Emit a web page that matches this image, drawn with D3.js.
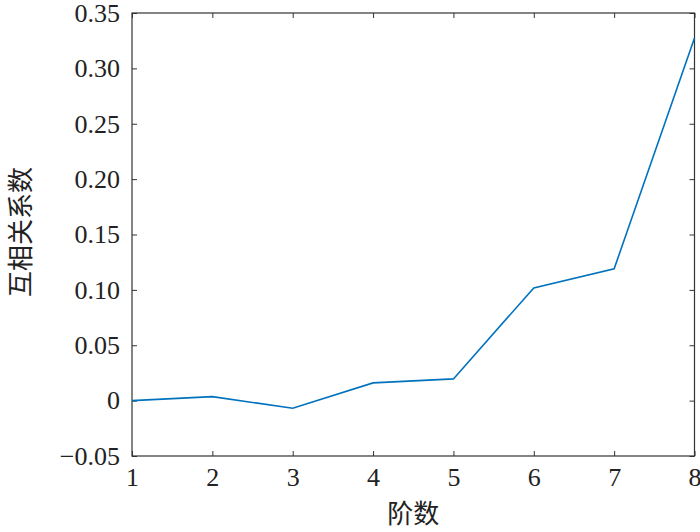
<!DOCTYPE html>
<html>
<head>
<meta charset="utf-8">
<script src="https://cdn.jsdelivr.net/npm/d3@7"></script>
<style>
  body { margin: 0; background: #fff; }
  .axis-label { font-family: "Noto Sans CJK SC", sans-serif; font-size: 26px; fill: #222; }
</style>
</head>
<body>
<div id="chart"></div>
<script>
// data
var orders = [1, 2, 3, 4, 5, 6, 7, 8];
var coeffs = [0.0, 0.0036, -0.0069, 0.016, 0.0196, 0.1018, 0.119, 0.3275];
var yTicks = [-0.05, 0, 0.05, 0.10, 0.15, 0.20, 0.25, 0.30, 0.35];
var yTickLabels = ["\u22120.05", "0", "0.05", "0.10", "0.15", "0.20", "0.25", "0.30", "0.35"];
var xLabel = "阶数";
var yLabel = "互相关系数";

var margin = { top: 13, right: 5.5, bottom: 76, left: 132 };
var width = 700 - margin.left - margin.right,
    height = 532 - margin.top - margin.bottom;

var svg = d3.select("#chart").append("svg")
    .attr("width", 700)
    .attr("height", 532)
    .append("g")
    .attr("transform", "translate(" + margin.left + "," + margin.top + ")");

var x = d3.scaleLinear().domain([1, 8]).range([0, width]);
var y = d3.scaleLinear().domain([-0.05, 0.35]).range([height, 0]);

// box axes with inward ticks
function styleAxis(g) {
    g.select(".domain").remove();
    g.selectAll(".tick line").attr("stroke", "#333");
    g.selectAll(".tick text")
        .style("font-family", "'Liberation Serif', 'Times New Roman', serif")
        .style("font-size", "26px")
        .style("fill", "#222");
}

svg.append("g")
    .attr("transform", "translate(0," + height + ")")
    .call(d3.axisBottom(x).tickValues(orders).tickFormat(d3.format("d")).tickSizeInner(-5).tickSizeOuter(0).tickPadding(12))
    .call(styleAxis);

svg.append("g")
    .call(d3.axisTop(x).tickValues(orders).tickFormat("").tickSizeInner(-5).tickSizeOuter(0))
    .call(styleAxis);

svg.append("g")
    .call(d3.axisLeft(y).tickValues(yTicks).tickFormat(function(d, i) { return yTickLabels[i]; }).tickSizeInner(-5).tickSizeOuter(0).tickPadding(12))
    .call(styleAxis);

svg.append("g")
    .attr("transform", "translate(" + width + ",0)")
    .call(d3.axisRight(y).tickValues(yTicks).tickFormat("").tickSizeInner(-5).tickSizeOuter(0))
    .call(styleAxis);

svg.append("rect")
    .attr("width", width)
    .attr("height", height)
    .attr("fill", "none")
    .attr("stroke", "#333")
    .attr("stroke-width", 1.2);

// the line
var line = d3.line()
    .x(function(d, i) { return x(orders[i]); })
    .y(function(d) { return y(d); });

svg.append("path")
    .datum(coeffs)
    .attr("fill", "none")
    .attr("stroke", "#0072BD")
    .attr("stroke-width", 1.6)
    .attr("d", line);

// axis labels
svg.append("text")
    .attr("class", "axis-label")
    .attr("x", width / 2)
    .attr("y", height + 67)
    .style("text-anchor", "middle")
    .text(xLabel);

svg.append("text")
    .attr("class", "axis-label")
    .attr("transform", "rotate(-90)")
    .attr("x", -232 + margin.top)
    .attr("y", -margin.left + 30)
    .style("text-anchor", "middle")
    .text(yLabel);
</script>
</body>
</html>
